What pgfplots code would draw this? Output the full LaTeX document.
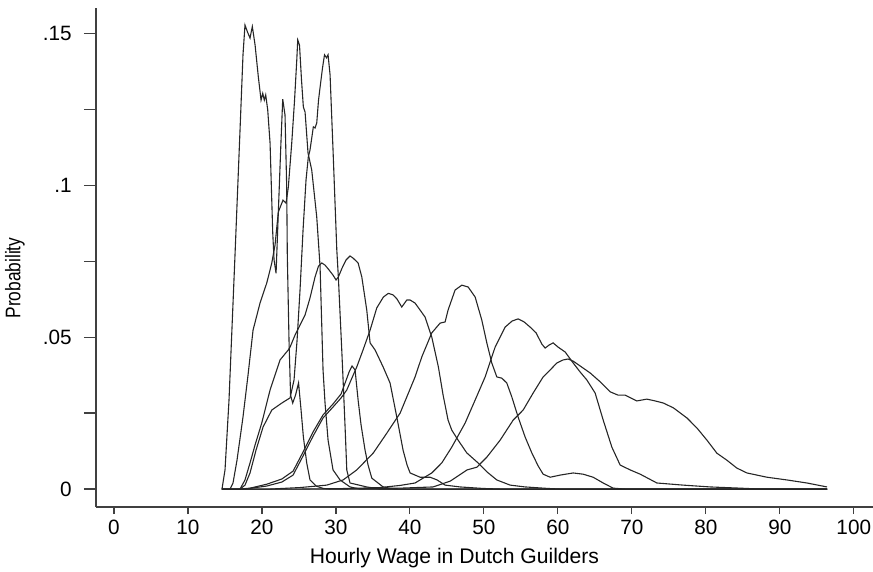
\documentclass[border=0pt]{standalone}
\usepackage{fontspec}
\setmainfont{Liberation Sans}
\usepackage{pgfplots}
\pgfplotsset{compat=1.18}
\usetikzlibrary{calc}

\begin{document}
\begin{tikzpicture}
\begin{axis}[
  name=ax,
  scale only axis, width=388.5bp, height=249.5bp,
  xmin=-2.43, xmax=102.6, ymin=-0.0059, ymax=0.1583,
  axis x line=bottom, axis y line=left,
  axis line style={-, black!75, line width=0.6bp},
  tick align=outside,
  major tick length=6bp, minor tick length=6bp,
  tick style={black!75, line width=0.6bp},
  xtick style={/pgfplots/major tick length=3.5bp},
  xtick={0,10,...,100},
  xticklabels={0,10,20,30,40,50,60,70,80,90,100},
  ytick={0,0.05,0.1,0.15},
  yticklabels={0,.05,.1,.15},
  minor ytick={0.025,0.075,0.125},
  every tick label/.append style={font=\fontsize{10.4}{12}\selectfont, text=black},
  yticklabel style={xshift=-2.6bp},
  xticklabel style={yshift=2.8bp},
  label style={font=\fontsize{10.6}{12}\selectfont},
  xlabel={Hourly Wage in Dutch Guilders},
  ylabel={\scalebox{0.82}[1]{Probability}},
  xlabel style={at={(rel axis cs:0.5,0)}, anchor=center, yshift=-25.5bp, xshift=-15bp},
  ylabel style={at={(rel axis cs:0,0.5)}, anchor=center, yshift=40.5bp, xshift=-10.25bp},
  cv/.style={black!85, line width=0.55bp, no markers, sharp plot},
]
% group 1
\addplot[cv] coordinates {(14.6,0)(15.01,.0063)(15.55,.0293)(16.36,.0770)(17.04,.1182)(17.44,.1429)(17.71,.1527)(18.03,.1505)(18.39,.1484)(18.70,.1522)(19.07,.1462)(19.51,.1357)(19.88,.1280)(20.11,.1302)(20.32,.1280)(20.51,.1297)(20.78,.1248)(21.10,.1138)(21.46,.0843)(21.64,.0754)(21.91,.0710)(22.22,.0913)(22.54,.1122)(22.81,.1283)(23.12,.1231)(23.35,.0991)(23.43,.0770)(23.66,.0490)(23.87,.0309)(24.16,.0283)(24.54,.0309)(24.95,.0349)(25.29,.0260)(25.60,.0172)(26.06,.0085)(26.50,.0030)(27.32,.0010)(28.30,.0002)(29.2,0)(96.4,0)};
% group 2
\addplot[cv] coordinates {(14.6,0)(15.69,0)(16.09,.0020)(16.63,.0095)(17.44,.0237)(18.12,.0375)(18.80,.0523)(19.74,.0612)(20.65,.0678)(21.33,.0744)(21.77,.0803)(22.22,.0912)(22.85,.0951)(23.26,.0941)(23.57,.0994)(24.03,.1139)(24.41,.1280)(24.71,.1412)(24.84,.1478)(25.08,.1461)(25.35,.1346)(25.60,.1257)(25.83,.1241)(26.23,.1106)(26.73,.1050)(27.41,.0895)(27.86,.0731)(28.26,.0392)(28.53,.0283)(28.94,.0161)(29.61,.0063)(30.56,.0030)(31.91,.0007)(33.27,0)(96.4,0)};
% group 3
\addplot[cv] coordinates {(14.6,0)(17.04,0)(17.71,.0013)(18.39,.0053)(19.20,.0128)(20.15,.0204)(21.33,.0260)(22.68,.0283)(23.80,.0300)(24.34,.0359)(24.75,.0490)(25.15,.0655)(25.56,.0853)(25.96,.1017)(26.27,.1093)(26.50,.1116)(26.95,.1192)(27.18,.1188)(27.41,.1205)(27.65,.1280)(27.85,.1320)(28.19,.1386)(28.46,.1429)(28.74,.1419)(28.94,.1429)(29.21,.1363)(29.61,.1116)(30.12,.0787)(30.33,.0698)(30.79,.0458)(30.97,.0359)(31.24,.0204)(31.47,.0063)(31.91,.0020)(34.17,.0007)(35.97,0)(96.4,0)};
% group 4
\addplot[cv] coordinates {(14.6,0)(17.04,0)(17.71,.0030)(18.39,.0086)(19.07,.0145)(19.97,.0217)(21.10,.0326)(22.45,.0425)(23.57,.0458)(23.80,.0467)(24.48,.0507)(25.15,.0540)(25.83,.0573)(26.50,.0629)(27.18,.0698)(27.65,.0734)(28.09,.0744)(28.53,.0737)(29.07,.0721)(29.61,.0704)(30.02,.0688)(30.33,.0698)(30.83,.0727)(31.37,.0754)(31.91,.0767)(32.32,.0760)(33.00,.0744)(33.50,.0698)(34.17,.0589)(34.62,.0481)(35.29,.0458)(36.38,.0402)(37.32,.0349)(38.23,.0237)(39.08,.0128)(39.62,.0079)(40.03,.0053)(41.38,.0039)(42.73,.0039)(43.68,.0030)(44.76,.0013)(46.79,.0007)(49.90,.0002)(52.20,0)(96.4,0)};
% group 5
\addplot[cv] coordinates {(14.6,0)(17.04,0)(18.39,.0003)(20.65,.0016)(22.68,.0033)(24.21,.0059)(25.56,.0122)(26.91,.0188)(28.26,.0244)(29.61,.0280)(30.70,.0313)(31.24,.0349)(31.78,.0385)(32.18,.0405)(32.59,.0392)(33.00,.0293)(33.40,.0211)(33.94,.0128)(34.35,.0079)(34.85,.0036)(36.38,.0007)(38.00,0)(96.4,0)};
% group 6
\addplot[cv] coordinates {(14.6,0)(17.71,0)(20.65,.0010)(22.68,.0023)(24.21,.0046)(25.56,.0109)(26.91,.0174)(28.26,.0234)(29.61,.0270)(30.70,.0300)(31.47,.0326)(32.05,.0359)(32.82,.0402)(33.67,.0458)(34.62,.0523)(35.52,.0596)(36.42,.0632)(37.09,.0644)(37.73,.0639)(38.27,.0625)(38.90,.0599)(39.58,.0622)(40.03,.0622)(40.70,.0612)(41.38,.0589)(42.05,.0566)(42.96,.0500)(43.85,.0402)(44.49,.0309)(45.16,.0227)(45.66,.0194)(46.52,.0161)(47.69,.0119)(49.22,.0086)(50.44,.0056)(51.75,.0030)(53.55,.0013)(55.58,.0007)(58.69,.0002)(60.31,0)(96.4,0)};
% group 7
\addplot[cv] coordinates {(14.6,0)(21.10,0)(25.15,.0005)(28.76,.0013)(30.97,.0030)(32.82,.0063)(35.06,.0119)(36.88,.0184)(38.68,.0250)(40.70,.0369)(41.61,.0435)(42.96,.0514)(44.08,.0546)(44.76,.0550)(45.16,.0589)(46.11,.0655)(47.02,.0671)(47.87,.0665)(48.82,.0632)(49.72,.0556)(50.40,.0481)(51.07,.0415)(51.75,.0369)(52.43,.0365)(53.10,.0349)(53.78,.0303)(54.63,.0237)(55.58,.0171)(56.48,.0119)(57.34,.0076)(58.01,.0049)(58.96,.0039)(60.31,.0046)(62.07,.0053)(63.42,.0049)(64.77,.0039)(66.13,.0020)(67.48,.0003)(69.10,0)(96.4,0)};
% group 8
\addplot[cv] coordinates {(14.6,0)(25.15,0)(31.91,.0002)(35.97,.0005)(38.68,.0012)(40.70,.0020)(42.96,.0053)(44.31,.0086)(45.66,.0138)(47.46,.0217)(48.82,.0293)(50.17,.0369)(51.52,.0467)(52.87,.0533)(53.82,.0553)(54.63,.0560)(55.44,.0550)(56.25,.0533)(57.06,.0514)(57.84,.0477)(58.28,.0464)(58.82,.0474)(59.36,.0481)(60.04,.0467)(60.99,.0451)(62.07,.0415)(63.02,.0385)(63.92,.0359)(65.04,.0316)(66.13,.0227)(67.30,.0138)(68.42,.0079)(69.78,.0063)(71.13,.0049)(73.39,.0020)(76.94,.0013)(80.59,.0007)(84.65,.0003)(87.36,0)(96.4,0)};
% group 9
\addplot[cv] coordinates {(14.6,0)(30.56,0)(38.68,.0003)(43.14,.0007)(45.44,.0026)(47.73,.0063)(49.05,.0072)(50.40,.0105)(52.20,.0161)(53.96,.0227)(55.31,.0260)(56.66,.0316)(58.01,.0369)(58.96,.0392)(59.87,.0415)(60.72,.0425)(61.39,.0428)(62.07,.0421)(63.02,.0405)(64.37,.0382)(65.72,.0353)(67.07,.0320)(68.15,.0309)(69.10,.0309)(70.68,.0290)(72.03,.0296)(73.16,.0290)(74.28,.0283)(75.63,.0267)(77.45,.0234)(78.80,.0201)(80.15,.0161)(81.50,.0118)(82.85,.0095)(84.20,.0069)(85.56,.0053)(88.26,.0039)(90.97,.0030)(93.67,.0020)(96.38,.0007)};
\end{axis}
\pgfresetboundingbox
\path[use as bounding box] ($(ax.south west)+(-48bp,-32.5bp)$) rectangle ($(ax.north east)+(0bp,4bp)$);
\end{tikzpicture}
\end{document}
